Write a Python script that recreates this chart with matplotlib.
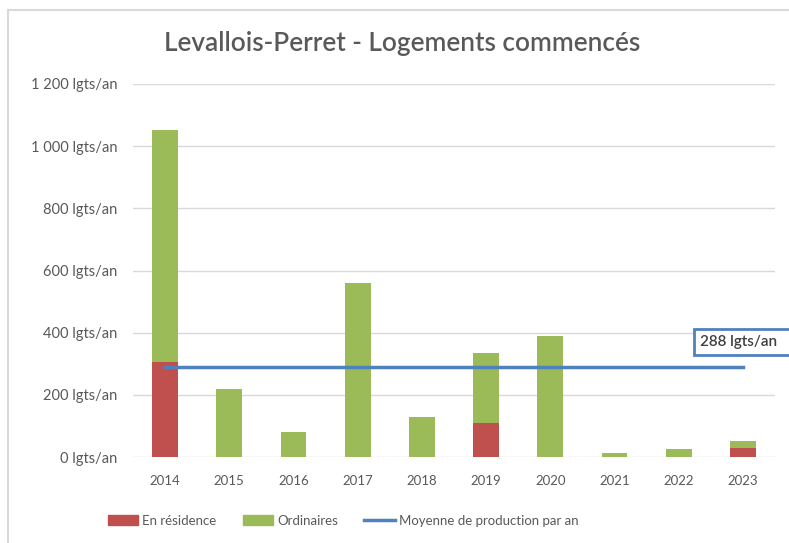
import matplotlib.pyplot as plt
from matplotlib.lines import Line2D

# données
annees = ["2014", "2015", "2016", "2017", "2018", "2019", "2020", "2021", "2022", "2023"]
en_residence = [305, 0, 0, 0, 0, 110, 0, 0, 0, 28]
ordinaires = [748, 220, 79, 561, 130, 224, 388, 14, 27, 25]
moyenne = 288
y_ticks = [0, 200, 400, 600, 800, 1000, 1200]
y_labels = ["0 lgts/an", "200 lgts/an", "400 lgts/an", "600 lgts/an",
            "800 lgts/an", "1 000 lgts/an", "1 200 lgts/an"]

rouge = "#C0504D"
vert = "#9BBB59"
bleu = "#4F81BD"
gris = "#595959"

plt.rcParams['font.family'] = ['Lato', 'DejaVu Sans']

fig = plt.figure(figsize=(7.89, 5.43), dpi=100)
ax = fig.add_axes([133 / 789, 1 - 457 / 543, (775 - 133) / 789, (457 - 84) / 543])

x = list(range(len(annees)))
ax.bar(x, en_residence, width=0.4, color=rouge, zorder=2)
ax.bar(x, ordinaires, width=0.4, bottom=en_residence, color=vert, zorder=2)
ax.plot([x[0], x[-1]], [moyenne, moyenne], color=bleu, lw=2.5, zorder=3)

# étiquette de la moyenne
ax.text(8.33, 370, f"{moyenne} lgts/an\u00a0\u00a0\u00a0", fontsize=11, color="#404040",
        fontweight="semibold", ha="left", va="center", clip_on=False,
        bbox=dict(boxstyle="square,pad=0.4", fc="white", ec=bleu, lw=2))

ax.set_xlim(-0.5, 9.5)
ax.set_ylim(0, 1200)
ax.set_xticks(x)
ax.set_xticklabels(annees)
ax.set_yticks(y_ticks)
ax.set_yticklabels(y_labels)
ax.tick_params(axis='both', length=0, labelcolor=gris)
ax.tick_params(axis='y', pad=11, labelsize=10.5)
ax.tick_params(axis='x', pad=13, labelsize=9.5)
ax.grid(axis='y', color="#D9D9D9", lw=1, zorder=0)
for s in ax.spines.values():
    s.set_visible(False)

fig.text(0.51, 1 - 43 / 543, "Levallois-Perret - Logements commencés",
         fontsize=18.8, fontweight="semibold", color=gris, ha="center", va="center")

# bordure de la zone graphique
fig.add_artist(Line2D([8 / 789, 8 / 789], [0, 1 - 10 / 543], color="#D9D9D9", lw=1.5))
fig.add_artist(Line2D([8 / 789, 1], [1 - 10 / 543, 1 - 10 / 543], color="#D9D9D9", lw=1.5))

handles = [plt.Rectangle((0, 0), 1, 1, color=rouge),
           plt.Rectangle((0, 0), 1, 1, color=vert),
           Line2D([0], [0], color=bleu, lw=2.5)]
fig.legend(handles, ["En résidence", "Ordinaires", "Moyenne de production par an"],
           loc="center", bbox_to_anchor=(343 / 789, 1 - 521 / 543), ncol=3,
           frameon=False, fontsize=9.5, labelcolor=gris, handlelength=2.3,
           handleheight=0.8, handletextpad=0.3, columnspacing=2.0)

plt.savefig("out.png", dpi=100)
